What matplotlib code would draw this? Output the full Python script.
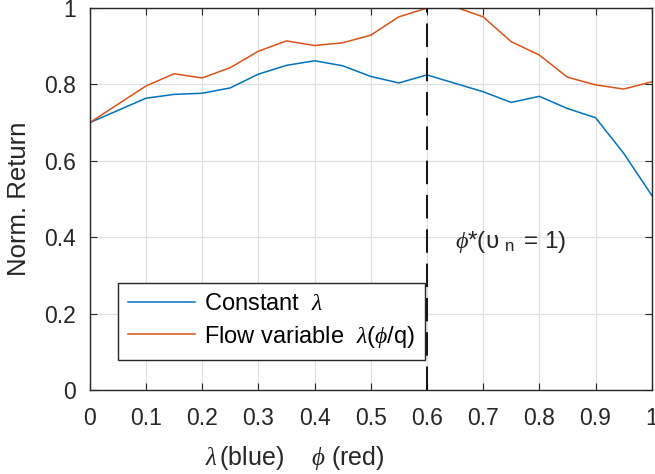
import numpy as np
import matplotlib
matplotlib.use("Agg")
import matplotlib.pyplot as plt

plt.rcParams['font.family'] = ['Liberation Sans', 'DejaVu Sans']
plt.rcParams['mathtext.fontset'] = 'custom'
plt.rcParams['mathtext.rm'] = 'Liberation Sans'
plt.rcParams['mathtext.it'] = 'Liberation Serif:italic'
plt.rcParams['mathtext.bf'] = 'Liberation Sans:bold'

# sampled parameter values (lambda for blue, phi for red)
x_vals = [0, 0.1, 0.15, 0.2, 0.25, 0.3, 0.35, 0.4, 0.45, 0.5, 0.55,
          0.6, 0.65, 0.7, 0.75, 0.8, 0.85, 0.9, 0.95, 1.0]
constant_lambda = [0.700, 0.764, 0.774, 0.777, 0.791, 0.827, 0.850, 0.862, 0.849, 0.821, 0.804,
                   0.825, 0.803, 0.781, 0.753, 0.769, 0.737, 0.713, 0.620, 0.510]
flow_variable = [0.700, 0.796, 0.828, 0.817, 0.844, 0.887, 0.914, 0.902, 0.909, 0.929, 0.977,
                 1.000, 1.003, 0.977, 0.912, 0.877, 0.819, 0.799, 0.788, 0.807]
phi_star = 0.6

fig = plt.figure(figsize=(6.55, 4.74), dpi=100)
ax = fig.add_axes([0.137, 0.177, 0.858, 0.806])

ax.plot(x_vals, constant_lambda, color='#0072BD', lw=1.1, label=r'Constant  $\lambda$')
ax.plot(x_vals, flow_variable, color='#D95319', lw=1.1, label=r'Flow variable  $\lambda$($\phi$/q)')
ax.axvline(phi_star, color='black', lw=1.3, ls=(0, (13, 6)))

ax.text(0.65, 0.387, r'$\phi$*(υ$\ {}_{\mathrm{n}}\ \,$= 1)', fontsize=17.5, va='center', ha='left',
        color='#262626')

ax.set_xlim(0, 1)
ax.set_ylim(0, 1)
ax.set_xticks(np.arange(0, 1.01, 0.1))
ax.set_xticklabels(['0', '0.1', '0.2', '0.3', '0.4', '0.5', '0.6', '0.7', '0.8', '0.9', '1'])
ax.set_yticks(np.arange(0, 1.01, 0.2))
ax.set_yticklabels(['0', '0.2', '0.4', '0.6', '0.8', '1'])
ax.grid(True, color='#e0e0e0', lw=0.9)
ax.set_axisbelow(True)
ax.tick_params(direction='in', top=True, right=True, length=5, labelsize=16.5,
               color='#262626', labelcolor='#262626')
ax.tick_params(axis='x', pad=12)
ax.tick_params(axis='y', pad=10)
for s in ax.spines.values():
    s.set_color('#262626')
    s.set_linewidth(1.0)

ax.set_xlabel(r'$\lambda\,$(blue)    $\phi$ (red)', fontsize=18, color='#262626')
ax.xaxis.set_label_coords(0.365, -0.178)
ax.xaxis.label.set_verticalalignment('center')
ax.set_ylabel('Norm. Return', fontsize=18.5, color='#262626', labelpad=9)

leg = ax.legend(loc='lower left', bbox_to_anchor=(0.05, 0.078), fontsize=17,
                fancybox=False, framealpha=1, edgecolor='#262626', borderpad=0.45,
                handlelength=2.8, handletextpad=0.4, labelspacing=0.35, borderaxespad=0)
leg.get_frame().set_linewidth(1.0)

fig.savefig('out.png', dpi=100)
